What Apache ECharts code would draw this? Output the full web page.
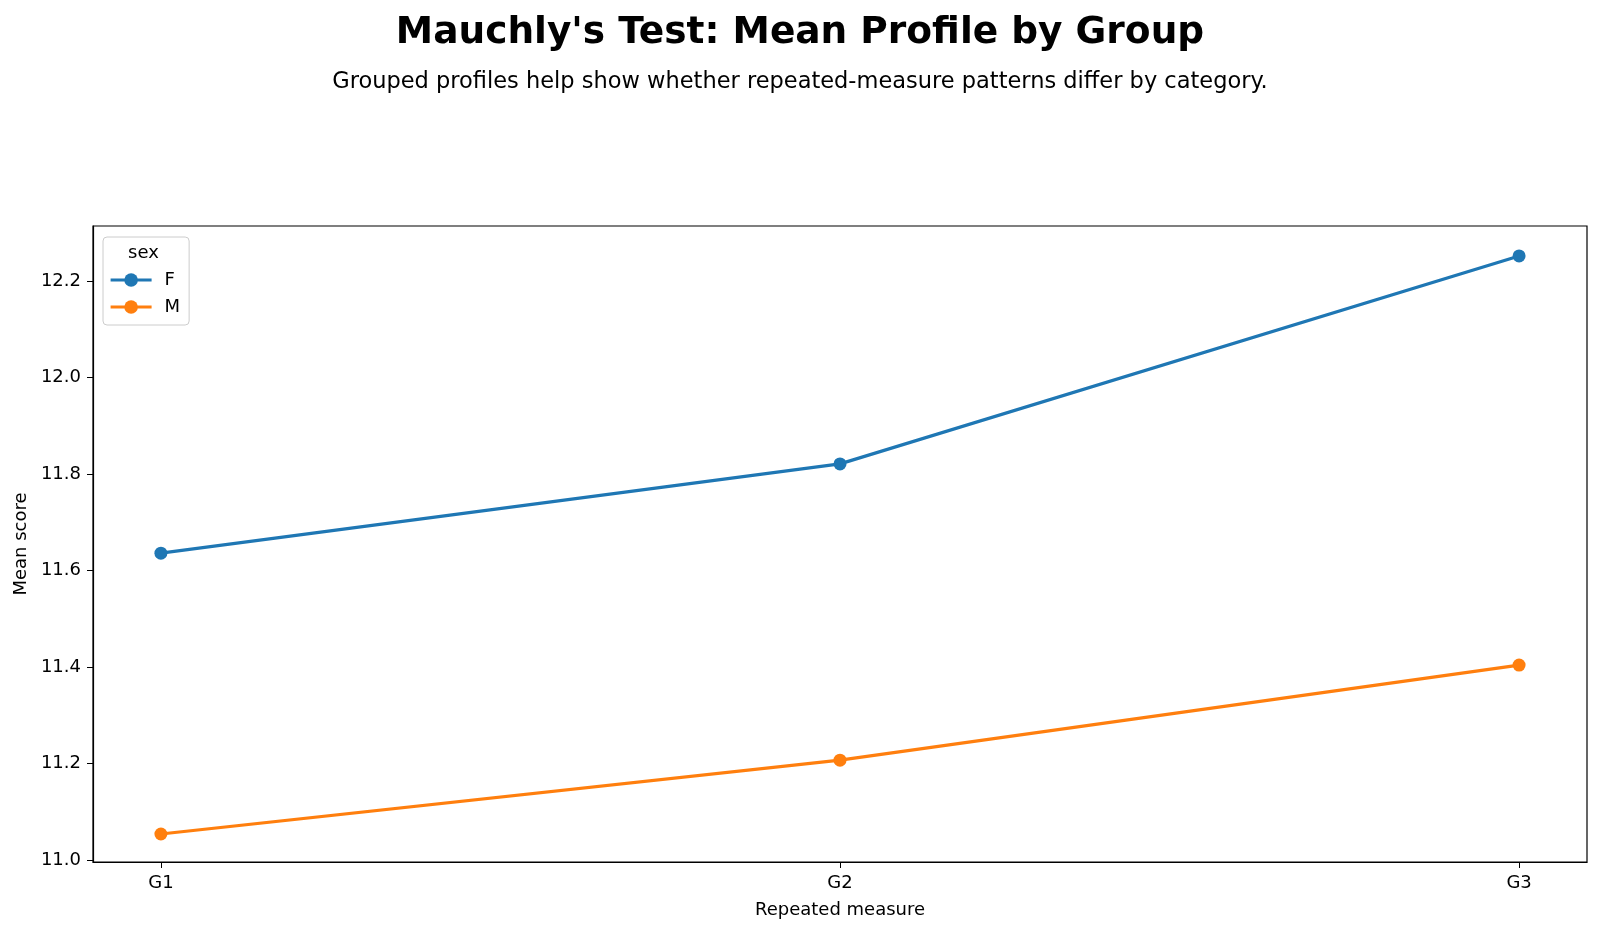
<!DOCTYPE html>
<html>
<head>
<meta charset="utf-8">
<script src="https://cdn.jsdelivr.net/npm/echarts@6/dist/echarts.min.js"></script>
<style>
  html, body { margin: 0; padding: 0; background: #fff; }
  #chart { width: 1600px; height: 932px; }
</style>
</head>
<body>
<div id="chart"></div>
<script>
  // repeated measures and group means
  const categories = ['G1', 'G2', 'G3'];
  const femaleMeans = [11.636, 11.821, 12.252];
  const maleMeans = [11.054, 11.207, 11.404];
  const yTicks = [11.0, 11.2, 11.4, 11.6, 11.8, 12.0, 12.2];
  const xTicks = [0, 1, 2];

  const font = 'DejaVu Sans';
  const toPairs = vals => vals.map((v, i) => [i, v]);

  let chart = echarts.init(document.getElementById('chart'));
  chart.setOption({
    animation: false,
    textStyle: { fontFamily: font },
    title: [
      {
        text: "Mauchly's Test: Mean Profile by Group",
        left: 'center', top: 9,
        textStyle: { fontFamily: font, fontSize: 37.5, fontWeight: 'bold', color: '#000' }
      },
      {
        text: 'Grouped profiles help show whether repeated-measure patterns differ by category.',
        left: 'center', top: 66,
        textStyle: { fontFamily: font, fontSize: 22.5, fontWeight: 'normal', color: '#000' }
      }
    ],
    grid: { left: 93, right: 13, top: 226, bottom: 70, containLabel: false, show: true, borderColor: '#000', borderWidth: 1.2 },
    legend: {
      orient: 'vertical',
      left: 103, top: 237,
      padding: [34, 9, 9, 6],
      itemGap: 9,
      itemWidth: 41, itemHeight: 17,
      borderColor: '#ccc', borderWidth: 1, borderRadius: 4,
      backgroundColor: 'rgba(255,255,255,0.8)',
      lineStyle: { width: 3.2 },
      textStyle: { fontFamily: font, fontSize: 18, color: '#000', padding: [0, 0, 0, 8] },
      data: ['F', 'M']
    },
    graphic: [
      {
        type: 'text', left: 128, top: 244, z: 100,
        style: { text: 'sex', fontFamily: font, fontSize: 18, fill: '#000' }
      }
    ],
    xAxis: {
      type: 'value', min: -0.1, max: 2.1,
      name: 'Repeated measure', nameLocation: 'middle', nameGap: 39,
      nameTextStyle: { fontFamily: font, fontSize: 18, color: '#000' },
      splitLine: { show: false },
      axisLine: { onZero: false, lineStyle: { color: '#000', width: 1.2 } },
      axisTick: { show: true, customValues: xTicks, length: 6, lineStyle: { color: '#000' } },
      axisLabel: {
        customValues: xTicks, margin: 12,
        formatter: v => categories[Math.round(v)],
        fontFamily: font, fontSize: 18, color: '#000'
      }
    },
    yAxis: {
      type: 'value', min: 10.996, max: 12.314,
      name: 'Mean score', nameLocation: 'middle', nameGap: 62, nameRotate: 90,
      nameTextStyle: { fontFamily: font, fontSize: 18, color: '#000' },
      splitLine: { show: false },
      axisLine: { show: true, onZero: false, lineStyle: { color: '#000', width: 1.2 } },
      axisTick: { show: true, customValues: yTicks, length: 6, lineStyle: { color: '#000' } },
      axisLabel: {
        customValues: yTicks, margin: 12,
        formatter: v => v.toFixed(1),
        fontFamily: font, fontSize: 18, color: '#000'
      }
    },
    series: [
      {
        name: 'F', type: 'line', data: toPairs(femaleMeans),
        symbol: 'circle', symbolSize: 13,
        lineStyle: { width: 3.2, color: '#1f77b4' },
        itemStyle: { color: '#1f77b4' }
      },
      {
        name: 'M', type: 'line', data: toPairs(maleMeans),
        symbol: 'circle', symbolSize: 13,
        lineStyle: { width: 3.2, color: '#ff7f0e' },
        itemStyle: { color: '#ff7f0e' }
      }
    ]
  });
</script>
</body>
</html>
